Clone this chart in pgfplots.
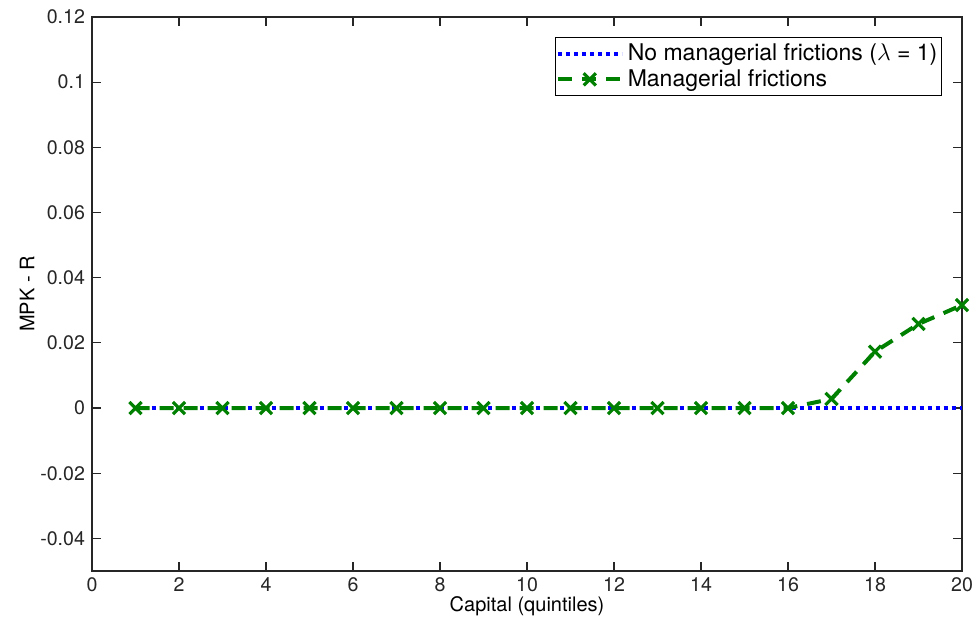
\documentclass[border=0pt]{standalone}
\usepackage{pgfplots}
\pgfplotsset{compat=1.18}
\usepackage{fontspec}
\setmainfont{TeX Gyre Heros}
\definecolor{mblue}{rgb}{0,0,1}
\definecolor{mgreen}{rgb}{0,0.5,0}
\definecolor{axgray}{rgb}{0.15,0.15,0.15}
\begin{document}
\begin{tikzpicture}
\begin{axis}[
  scale only axis,
  width=435pt, height=277pt,
  xmin=0, xmax=20, ymin=-0.05, ymax=0.12,
  xtick={0,2,...,20},
  ytick={-0.04,-0.02,0,0.02,0.04,0.06,0.08,0.1,0.12},
  /pgf/number format/assume math mode=true,
  yticklabel style={/pgf/number format/fixed, /pgf/number format/precision=2},
  tick align=inside,
  major tick length=4.5pt,
  axis line style={axgray, line width=0.6pt},
  tick style={axgray, line width=0.6pt},
  tick label style={font=\fontsize{9.8}{11}\selectfont, text=axgray},
  label style={font=\fontsize{10}{12}\selectfont, text=black},
  xlabel={Capital (quintiles)},
  ylabel={MPK - R},
  xlabel style={at={(axis description cs:0.5,-0.063)}, anchor=center},
  ylabel style={at={(axis description cs:-0.0747,0.5)}, anchor=center, rotate=0},
  legend cell align=left,
  legend style={at={(axis description cs:1,1)}, anchor=north east, xshift=-10pt, yshift=-10pt,
    font=\fontsize{11.5}{13}\selectfont, draw=black, line width=0.6pt,
    inner xsep=0pt, inner ysep=1pt, row sep=-1pt,
    nodes={inner xsep=2pt}},
  legend image code/.code={
    \draw[#1] (0pt,0pt) -- (32pt,0pt);
    \draw[#1, solid] plot coordinates {(16pt,0pt)};
  },
]
\addplot[mblue, line width=2pt, dash pattern=on 2pt off 2pt, mark=none]
  coordinates {(1,0) (2,0) (3,0) (4,0) (5,0) (6,0) (7,0) (8,0) (9,0) (10,0)
  (11,0) (12,0) (13,0) (14,0) (15,0) (16,0) (17,0) (18,0) (19,0) (20,0)};
\addlegendentry{No managerial frictions ($\lambda$ = 1)}
\addplot[mgreen, line width=2pt, dash pattern=on 7pt off 5pt, mark=x, mark size=4.3pt,
  mark options={solid, line width=1.6pt}]
  coordinates {(1,0) (2,0) (3,0) (4,0) (5,0) (6,0) (7,0) (8,0) (9,0) (10,0)
  (11,0) (12,0) (13,0) (14,0) (15,0) (16,0) (17,0.0028) (18,0.0173) (19,0.0258) (20,0.0316)};
\addlegendentry{Managerial frictions}
\end{axis}
\pgfresetboundingbox
\path (-46pt,-24.5pt) rectangle (441pt,285.5pt);
\end{tikzpicture}
\end{document}
